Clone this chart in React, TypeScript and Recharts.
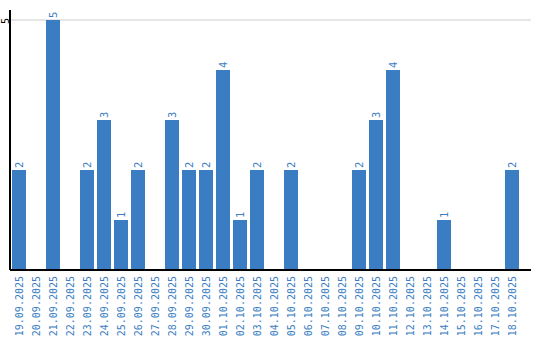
import { BarChart, Bar, XAxis, YAxis, CartesianGrid, LabelList } from 'recharts'

// daily counts, 19.09.2025 - 18.10.2025
const dates = [
    '19.09.2025', '20.09.2025', '21.09.2025', '22.09.2025', '23.09.2025',
    '24.09.2025', '25.09.2025', '26.09.2025', '27.09.2025', '28.09.2025',
    '29.09.2025', '30.09.2025', '01.10.2025', '02.10.2025', '03.10.2025',
    '04.10.2025', '05.10.2025', '06.10.2025', '07.10.2025', '08.10.2025',
    '09.10.2025', '10.10.2025', '11.10.2025', '12.10.2025', '13.10.2025',
    '14.10.2025', '15.10.2025', '16.10.2025', '17.10.2025', '18.10.2025',
]
const counts = [
    2, 0, 5, 0, 2,
    3, 1, 2, 0, 3,
    2, 2, 4, 1, 2,
    0, 2, 0, 0, 0,
    2, 3, 4, 0, 0,
    1, 0, 0, 0, 2,
]
const yTicks = [5]

const BLUE = '#3a7dc2'
const FONT = '"DejaVu Sans Mono", monospace'

const data = dates.map((d, i) => ({ date: d, count: counts[i] }))

const DateTick = ({ x, y, payload }: any) => (
    <text
        transform={`translate(${x + 4}, ${y - 2}) rotate(-90)`}
        textAnchor="end"
        fill={BLUE}
        fontSize={10}
        fontFamily={FONT}
    >
        {payload.value}
    </text>
)

const CountTick = ({ x, y, payload }: any) => (
    <text
        transform={`translate(${x + 7}, ${y + 1}) rotate(-90)`}
        textAnchor="middle"
        fill="#000"
        fontSize={10}
        fontFamily={FONT}
    >
        {payload.value}
    </text>
)

const ValueLabel = ({ x, y, width, value }: any) => {
    if (!value) return null
    return (
        <text
            transform={`translate(${x + width / 2 + 4}, ${y - 2}) rotate(-90)`}
            textAnchor="start"
            fill={BLUE}
            fontSize={10.5}
            fontFamily={FONT}
        >
            {value}
        </text>
    )
}

export default function App() {
    return (
        <div style={{ width: 540, height: 340 }}>
            <style>{'body { margin: 0; }'}</style>
            <BarChart
                width={540}
                height={340}
                data={data}
                margin={{ top: 10, right: 9, left: 0, bottom: 0 }}
            >
                <CartesianGrid vertical={false} horizontalValues={yTicks} stroke="#cccccc" />
                <XAxis
                    dataKey="date"
                    height={70}
                    interval={0}
                    padding={{ left: 0, right: 11 }}
                    tickLine={false}
                    axisLine={{ stroke: '#000', strokeWidth: 2 }}
                    tick={<DateTick />}
                />
                <YAxis
                    width={10}
                    domain={[0, 5.2]}
                    ticks={yTicks}
                    tickLine={false}
                    axisLine={{ stroke: '#000', strokeWidth: 2 }}
                    tick={<CountTick />}
                />
                <Bar dataKey="count" fill={BLUE} barSize={14} isAnimationActive={false}>
                    <LabelList dataKey="count" content={<ValueLabel />} />
                </Bar>
            </BarChart>
        </div>
    )
}
